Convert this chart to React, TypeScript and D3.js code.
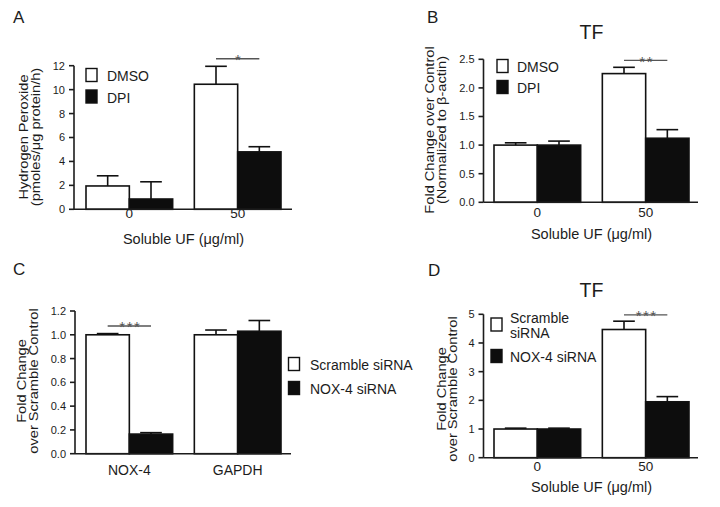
import React from "react";
import * as d3 from "d3";

// x categories
const ufDoses = ["0", "50"];
const genes = ["NOX-4", "GAPDH"];

// A: hydrogen peroxide (pmoles/µg protein/h), mean and SEM
const h2o2Dmso = [1.95, 10.45];
const h2o2DmsoSem = [0.85, 1.5];
const h2o2Dpi = [0.86, 4.8];
const h2o2DpiSem = [1.44, 0.43];

// B: TF fold change, DMSO vs DPI
const tfDmso = [1.0, 2.25];
const tfDmsoSem = [0.04, 0.11];
const tfDpi = [1.0, 1.12];
const tfDpiSem = [0.07, 0.15];

// C: knockdown check
const kdScramble = [1.0, 1.0];
const kdScrambleSem = [0.01, 0.04];
const kdNox4 = [0.165, 1.03];
const kdNox4Sem = [0.012, 0.09];

// D: TF fold change, scramble vs NOX-4 siRNA
const tfScramble = [1.0, 4.47];
const tfScrambleSem = [0.03, 0.29];
const tfNox4 = [1.0, 1.95];
const tfNox4Sem = [0.03, 0.18];

const FONT = "'Liberation Sans', Arial, Helvetica, sans-serif";
const INK = "#1c1c1c";
const WHITE = "#ffffff";
const BLACK = "#0d0d0d";

type Series = { legend: string[]; values: number[]; sem: number[]; fill: string };

type PanelCfg = {
  letter: string;
  letterPos: [number, number];
  title?: string;
  titleY?: number;
  cats: string[];
  series: Series[];
  yMax: number;
  yStep: number;
  yFmt: string;
  axisX: number;
  axisEnd: number;
  yBottom: number;
  yTop: number;
  bandRange: [number, number];
  yLabel: string[];
  yLabelX: number[];
  yLabelCY: number;
  xTickY: number;
  xTickSize: number;
  xLabel?: string;
  xLabelY?: number;
  legendX: number;
  legendTextX: number;
  legendTops: number[];
  sig: { group: number; value: number; text: string };
};

function Panel({ cfg }: { cfg: PanelCfg }) {
  const y = d3.scaleLinear().domain([0, cfg.yMax]).range([cfg.yBottom, cfg.yTop]);
  const x0 = d3.scaleBand().domain(cfg.cats).range(cfg.bandRange).paddingInner(0.2);
  const x1 = d3
    .scaleBand()
    .domain(cfg.series.map((_, i) => String(i)))
    .range([0, x0.bandwidth()]);
  const bw = x1.bandwidth();
  const ticks = d3.range(0, cfg.yMax + cfg.yStep / 2, cfg.yStep);
  const fmt = d3.format(cfg.yFmt);
  const midX = (cfg.bandRange[0] + cfg.bandRange[1]) / 2;

  const sigCat = cfg.cats[cfg.sig.group];
  const sx0 = (x0(sigCat) ?? 0) + (x1("0") ?? 0) + bw / 2;
  const sx1 = (x0(sigCat) ?? 0) + (x1("1") ?? 0) + bw / 2;
  const sy = y(cfg.sig.value);

  return (
    <g fontFamily={FONT} fill={INK}>
      <text x={cfg.letterPos[0]} y={cfg.letterPos[1]} fontSize={17}>
        {cfg.letter}
      </text>
      {cfg.title && (
        <text x={midX} y={cfg.titleY} fontSize={19.5} textAnchor="middle">
          {cfg.title}
        </text>
      )}

      {/* bars */}
      {cfg.cats.map((c, ci) =>
        cfg.series.map((s, si) => (
          <rect
            key={`${c}-${si}`}
            x={(x0(c) ?? 0) + (x1(String(si)) ?? 0)}
            y={y(s.values[ci])}
            width={bw}
            height={cfg.yBottom - y(s.values[ci])}
            fill={s.fill}
            stroke="#111"
            strokeWidth={1.6}
          />
        ))
      )}

      {/* error bars, upper only */}
      {cfg.cats.map((c, ci) =>
        cfg.series.map((s, si) => {
          const cx = (x0(c) ?? 0) + (x1(String(si)) ?? 0) + bw / 2;
          const top = y(s.values[ci] + s.sem[ci]);
          return (
            <g key={`e-${c}-${si}`} stroke="#111" strokeWidth={1.6}>
              <line x1={cx} x2={cx} y1={y(s.values[ci])} y2={top} />
              <line x1={cx - bw / 4} x2={cx + bw / 4} y1={top} y2={top} />
            </g>
          );
        })
      )}

      {/* axes */}
      <g stroke={INK} strokeWidth={1.6}>
        <line x1={cfg.axisX} x2={cfg.axisX} y1={cfg.yTop} y2={cfg.yBottom} />
        <line x1={cfg.axisX} x2={cfg.axisEnd} y1={cfg.yBottom} y2={cfg.yBottom} />
        {ticks.map((t) => (
          <line key={t} x1={cfg.axisX - 5} x2={cfg.axisX} y1={y(t)} y2={y(t)} />
        ))}
      </g>
      {ticks.map((t) => (
        <text key={t} x={cfg.axisX - 9} y={y(t)} dy="0.36em" fontSize={11} textAnchor="end">
          {fmt(t)}
        </text>
      ))}
      {cfg.cats.map((c) => (
        <text
          key={c}
          x={(x0(c) ?? 0) + x0.bandwidth() / 2}
          y={cfg.xTickY}
          fontSize={cfg.xTickSize}
          textAnchor="middle"
        >
          {c}
        </text>
      ))}
      {cfg.xLabel && (
        <text x={midX} y={cfg.xLabelY} fontSize={14.5} textAnchor="middle">
          {cfg.xLabel}
        </text>
      )}
      {cfg.yLabel.map((l, i) => (
        <text
          key={l}
          transform={`translate(${cfg.yLabelX[i]},${cfg.yLabelCY}) rotate(-90) scale(1.17,1)`}
          fontSize={12.5}
          textAnchor="middle"
        >
          {l}
        </text>
      ))}

      {/* legend */}
      {cfg.series.map((s, si) => {
        const top = cfg.legendTops[si];
        const n = s.legend.length;
        return (
          <g key={`l-${si}`}>
            <rect
              x={cfg.legendX}
              y={top}
              width={11}
              height={13}
              fill={s.fill}
              stroke="#111"
              strokeWidth={1.4}
            />
            {s.legend.map((line, li) => (
              <text
                key={line}
                x={cfg.legendTextX}
                y={top + 12.5 - (n - 1) * 7.25 + li * 14.5}
                fontSize={14}
              >
                {line}
              </text>
            ))}
          </g>
        );
      })}

      {/* significance */}
      <line x1={sx0} x2={sx1} y1={sy} y2={sy} stroke="#555" strokeWidth={1.3} />
      <text
        x={(sx0 + sx1) / 2 + 1}
        y={sy + 6.5}
        fontSize={15}
        letterSpacing={1.5}
        textAnchor="middle"
        fill="#555"
      >
        {cfg.sig.text}
      </text>
    </g>
  );
}

const panelA: PanelCfg = {
  letter: "A",
  letterPos: [13, 23],
  cats: ufDoses,
  series: [
    { legend: ["DMSO"], values: h2o2Dmso, sem: h2o2DmsoSem, fill: WHITE },
    { legend: ["DPI"], values: h2o2Dpi, sem: h2o2DpiSem, fill: BLACK },
  ],
  yMax: 12,
  yStep: 2,
  yFmt: "d",
  axisX: 74,
  axisEnd: 292,
  yBottom: 209.3,
  yTop: 65.7,
  bandRange: [86, 281],
  yLabel: ["Hydrogen Peroxide", "(pmoles/\u03bcg protein/h)"],
  yLabelX: [28, 40],
  yLabelCY: 137,
  xTickY: 218,
  xTickSize: 13.5,
  xLabel: "Soluble UF (\u03bcg/ml)",
  xLabelY: 244,
  legendX: 86,
  legendTextX: 107,
  legendTops: [68.5, 90],
  sig: { group: 1, value: 12.58, text: "*" },
};

const panelB: PanelCfg = {
  letter: "B",
  letterPos: [427, 23],
  title: "TF",
  titleY: 39,
  cats: ufDoses,
  series: [
    { legend: ["DMSO"], values: tfDmso, sem: tfDmsoSem, fill: WHITE },
    { legend: ["DPI"], values: tfDpi, sem: tfDpiSem, fill: BLACK },
  ],
  yMax: 2.5,
  yStep: 0.5,
  yFmt: ".1f",
  axisX: 483.5,
  axisEnd: 698,
  yBottom: 202.3,
  yTop: 59.3,
  bandRange: [494, 689],
  yLabel: ["Fold Change over Control", "(Normalized to \u03b2-actin)"],
  yLabelX: [434, 446],
  yLabelCY: 130,
  xTickY: 217,
  xTickSize: 13.5,
  xLabel: "Soluble UF (\u03bcg/ml)",
  xLabelY: 239,
  legendX: 497,
  legendTextX: 517,
  legendTops: [59.5, 80.5],
  sig: { group: 1, value: 2.48, text: "**" },
};

const panelC: PanelCfg = {
  letter: "C",
  letterPos: [13, 275],
  cats: genes,
  series: [
    { legend: ["Scramble siRNA"], values: kdScramble, sem: kdScrambleSem, fill: WHITE },
    { legend: ["NOX-4 siRNA"], values: kdNox4, sem: kdNox4Sem, fill: BLACK },
  ],
  yMax: 1.2,
  yStep: 0.2,
  yFmt: ".1f",
  axisX: 75,
  axisEnd: 291,
  yBottom: 453.7,
  yTop: 311,
  bandRange: [86, 281],
  yLabel: ["Fold Change", "over Scramble Control"],
  yLabelX: [26, 38],
  yLabelCY: 381,
  xTickY: 475,
  xTickSize: 14,
  legendX: 288.5,
  legendTextX: 310,
  legendTops: [357.5, 381.5],
  sig: { group: 0, value: 1.074, text: "***" },
};

const panelD: PanelCfg = {
  letter: "D",
  letterPos: [428, 276],
  title: "TF",
  titleY: 297,
  cats: ufDoses,
  series: [
    { legend: ["Scramble", "siRNA"], values: tfScramble, sem: tfScrambleSem, fill: WHITE },
    { legend: ["NOX-4 siRNA"], values: tfNox4, sem: tfNox4Sem, fill: BLACK },
  ],
  yMax: 5,
  yStep: 1,
  yFmt: "d",
  axisX: 483.5,
  axisEnd: 698,
  yBottom: 457.7,
  yTop: 314.3,
  bandRange: [494, 689],
  yLabel: ["Fold Change", "over Scramble Control"],
  yLabelX: [446, 457],
  yLabelCY: 389,
  xTickY: 471,
  xTickSize: 13.5,
  xLabel: "Soluble UF (\u03bcg/ml)",
  xLabelY: 492,
  legendX: 491,
  legendTextX: 510,
  legendTops: [318, 349.5],
  sig: { group: 1, value: 4.98, text: "***" },
};

export default function App() {
  return (
    <svg
      width={720}
      height={507}
      style={{ position: "absolute", left: 0, top: 0, background: "#fff" }}
    >
      <rect width={720} height={507} fill="#fff" />
      <Panel cfg={panelA} />
      <Panel cfg={panelB} />
      <Panel cfg={panelC} />
      <Panel cfg={panelD} />
    </svg>
  );
}
